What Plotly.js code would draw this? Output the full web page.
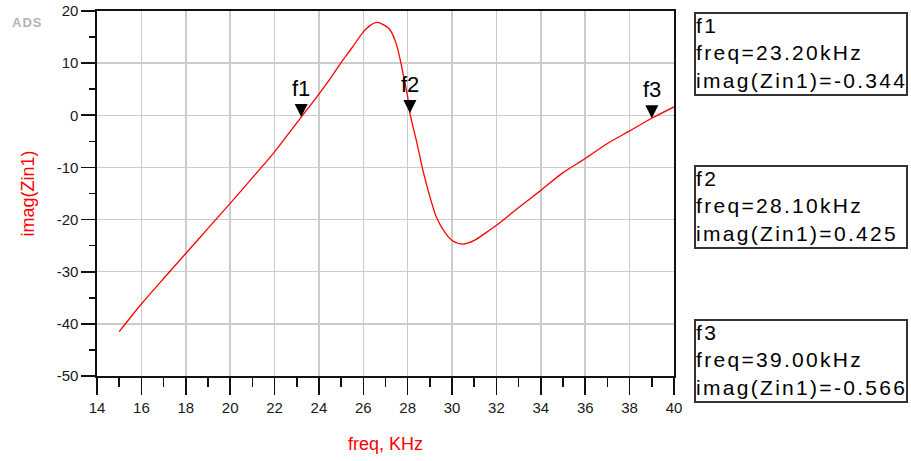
<!DOCTYPE html>
<html>
<head>
<meta charset="utf-8">
<script src="https://cdn.plot.ly/plotly-3.0.1.min.js"></script>
<style>html,body{margin:0;padding:0;background:#fff;}#chart{width:911px;height:461px;}</style>
</head>
<body>
<div id="chart"></div>
<script>
// Curve data
const freq = [15, 16, 17, 18, 19, 20, 21, 22, 23.2, 23.9, 24.5, 25, 25.5, 26, 26.3, 26.6, 26.9, 27.2, 27.5, 27.8, 28.0, 28.1, 28.4, 28.7, 29.0, 29.3, 29.7, 30.0, 30.5, 31.0, 31.5, 32, 33, 34, 35, 36, 37, 38, 39, 40];
const imagZin1 = [-41.5, -36.2, -31.3, -26.5, -21.7, -16.9, -12.0, -7.0, -0.344, 3.5, 7.0, 10.1, 13.0, 16.0, 17.2, 17.8, 17.4, 16.4, 13.5, 7.8, 3.5, 0.425, -5.0, -10.8, -15.6, -19.6, -22.6, -24.0, -24.7, -24.0, -22.6, -21.1, -17.7, -14.4, -11.0, -8.3, -5.4, -3.0, -0.566, 1.6];

// Markers
const markerNames = ["f1", "f2", "f3"];
const markerFreq = [23.20, 28.10, 39.00];
const markerVal = [-0.344, 0.425, -0.566];
const markerFreqText = ["23.20", "28.10", "39.00"];
const markerValText = ["-0.344", "0.425", "-0.566"];

// Axis ticks
const xTicks = [14, 16, 18, 20, 22, 24, 26, 28, 30, 32, 34, 36, 38, 40];
const yTicks = [-50, -40, -30, -20, -10, 0, 10, 20];

const FONT = "Liberation Sans, Arial, sans-serif";
const LS = "letter-spacing:2.3px";

const trace = {
  x: freq, y: imagZin1, type: "scatter", mode: "lines",
  line: {color: "#ff0000", width: 1.3, shape: "spline", smoothing: 0.8},
  hoverinfo: "skip"
};

const shapes = markerFreq.map((fx, i) => ({
  type: "path", xref: "x", yref: "y",
  xsizemode: "pixel", ysizemode: "pixel",
  xanchor: fx, yanchor: markerVal[i],
  path: "M-6.5,13 L6.5,13 L0,0 Z",
  fillcolor: "#000", line: {width: 0}, layer: "above"
}));

const annotations = [];
markerFreq.forEach((fx, i) => {
  annotations.push({
    x: fx, y: markerVal[i], xref: "x", yref: "y",
    text: markerNames[i], showarrow: false,
    yanchor: "bottom", xanchor: "center", yshift: 14,
    font: {family: FONT, size: 22, color: "#000"}
  });
});
// readout boxes (paper coordinates: plot spans px 97..674 x, 11..376 y)
const boxTops = [0.997, 0.578, 0.157];
markerNames.forEach((n, i) => {
  annotations.push({
    xref: "paper", yref: "paper", x: 1.0347, y: boxTops[i],
    xanchor: "left", yanchor: "top", align: "left", valign: "top",
    showarrow: false, width: 210, height: 80,
    bordercolor: "#333", borderwidth: 2, borderpad: 0,
    text: '<span style="' + LS + '">' + n + '<br>freq=' + markerFreqText[i] + 'kHz<br>imag(Zin1)=' + markerValText[i] + '</span>',
    font: {family: FONT, size: 21, color: "#000"}
  });
});
annotations.push({
  xref: "paper", yref: "paper", x: -0.1213, y: 0.969,
  xanchor: "center", yanchor: "middle", showarrow: false,
  text: '<span style="letter-spacing:1px">ADS</span>', font: {family: FONT, size: 13, color: "#b4b4b4", weight: "bold"}
});

const layout = {
  width: 911, height: 461,
  margin: {l: 97, r: 237, t: 11, b: 85},
  paper_bgcolor: "#fff", plot_bgcolor: "#fff",
  showlegend: false,
  font: {family: FONT, color: "#222"},
  xaxis: {
    range: [14, 40], tickvals: xTicks, ticktext: xTicks.map(String),
    ticks: "outside", ticklen: 17, tickwidth: 1.6, tickcolor: "#111",
    minor: {dtick: 1, tick0: 14, ticks: "outside", ticklen: 9, tickwidth: 1.6, tickcolor: "#111", showgrid: false},
    showgrid: true, gridcolor: "#cccccc", gridwidth: 1.5,
    showline: true, linecolor: "#111", linewidth: 1.6, mirror: true,
    zeroline: false,
    tickfont: {family: FONT, size: 15, color: "#1a1a1a"},
    title: {text: "freq, KHz", font: {family: FONT, size: 18, color: "#ff0000"}, standoff: 23},
    automargin: false, fixedrange: true
  },
  yaxis: {
    range: [-50, 20], tickvals: yTicks, ticktext: yTicks.map(String),
    ticks: "outside", ticklen: 14, tickwidth: 1.6, tickcolor: "#111",
    minor: {dtick: 5, tick0: 0, ticks: "outside", ticklen: 6, tickwidth: 1.6, tickcolor: "#111", showgrid: false},
    showgrid: true, gridcolor: "#cccccc", gridwidth: 1.5,
    showline: true, linecolor: "#111", linewidth: 1.6, mirror: true,
    zeroline: false,
    tickfont: {family: FONT, size: 15, color: "#1a1a1a"},
    title: {text: "imag(Zin1)", font: {family: FONT, size: 18, color: "#ff0000"}, standoff: 17},
    automargin: false, fixedrange: true
  },
  shapes: shapes,
  annotations: annotations
};

Plotly.newPlot("chart", [trace], layout, {displayModeBar: false, staticPlot: true});
</script>
</body>
</html>
